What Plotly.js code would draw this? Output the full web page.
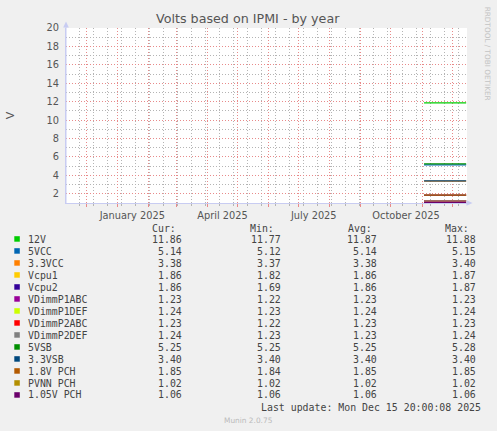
<!DOCTYPE html>
<html>
<head>
<meta charset="utf-8">
<script src="https://cdn.plot.ly/plotly-3.0.1.min.js"></script>
<style>html,body{margin:0;padding:0;background:#F0F0F0;}#chart{width:497px;height:431px;}</style>
</head>
<body>
<div id="chart"></div>
<script>
// ---- data ----
const dates = ['2025-11-03','2025-11-10','2025-11-17','2025-11-24','2025-12-01','2025-12-08','2025-12-15'];
const seriesNames = ['12V','5VCC','3.3VCC','Vcpu1','Vcpu2','VDimmP1ABC','VDimmP1DEF','VDimmP2ABC','VDimmP2DEF','5VSB','3.3VSB','1.8V PCH','PVNN PCH','1.05V PCH'];
const seriesColors = ['#00CC00','#0066B3','#FF8000','#FFCC00','#330099','#990099','#CCFF00','#FF0000','#808080','#008F00','#00487D','#B35A00','#B38F00','#6B006B'];
const v12V       = [11.86,11.87,11.87,11.88,11.87,11.87,11.86];
const v5VCC      = [5.14,5.14,5.14,5.15,5.14,5.14,5.14];
const v33VCC     = [3.38,3.38,3.38,3.39,3.38,3.38,3.38];
const vVcpu1     = [1.86,1.86,1.86,1.86,1.86,1.86,1.86];
const vVcpu2     = [1.86,1.86,1.86,1.86,1.86,1.86,1.86];
const vP1ABC     = [1.23,1.23,1.23,1.23,1.23,1.23,1.23];
const vP1DEF     = [1.24,1.24,1.24,1.24,1.24,1.24,1.24];
const vP2ABC     = [1.23,1.23,1.23,1.23,1.23,1.23,1.23];
const vP2DEF     = [1.23,1.23,1.24,1.23,1.23,1.23,1.24];
const v5VSB      = [5.25,5.25,5.25,5.26,5.25,5.25,5.25];
const v33VSB     = [3.40,3.40,3.40,3.40,3.40,3.40,3.40];
const v18PCH     = [1.85,1.85,1.85,1.85,1.85,1.85,1.85];
const vPVNN      = [1.02,1.02,1.02,1.02,1.02,1.02,1.02];
const v105PCH    = [1.06,1.06,1.06,1.06,1.06,1.06,1.06];
const seriesValues = [v12V,v5VCC,v33VCC,vVcpu1,vVcpu2,vP1ABC,vP1DEF,vP2ABC,vP2DEF,v5VSB,v33VSB,v18PCH,vPVNN,v105PCH];
const curCol = ['11.86','5.14','3.38','1.86','1.86','1.23','1.24','1.23','1.24','5.25','3.40','1.85','1.02','1.06'];
const minCol = ['11.77','5.12','3.37','1.82','1.69','1.22','1.23','1.22','1.23','5.25','3.40','1.84','1.02','1.06'];
const avgCol = ['11.87','5.14','3.38','1.86','1.86','1.23','1.24','1.23','1.23','5.25','3.40','1.85','1.02','1.06'];
const maxCol = ['11.88','5.15','3.40','1.87','1.87','1.23','1.24','1.23','1.24','5.28','3.40','1.85','1.02','1.06'];
const monthTicks = ['2024-12-01','2025-01-01','2025-02-01','2025-03-01','2025-04-01','2025-05-01','2025-06-01','2025-07-01','2025-08-01','2025-09-01','2025-10-01','2025-11-01','2025-12-01'];
const monthLabels = ['','January 2025','','','April 2025','','','July 2025','','','October 2025','',''];
const titleText = 'Volts based on IPMI - by year';
const lastUpdate = 'Last update: Mon Dec 15 20:00:08 2025';

// ---- layout helpers (pixel -> paper) ----
const L = 66, R = 467, T = 28.3, B = 203.3;
const W = 497, H = 431;
const px = x => (x - L) / (R - L);
const py = y => (B - y) / (B - T);

const traces = seriesNames.map((n, i) => ({
  type: 'scatter', mode: 'lines', name: n, x: dates, y: seriesValues[i],
  line: {color: seriesColors[i], width: 1.2}, showlegend: false, hoverinfo: 'skip'
}));

const mono = {family: 'DejaVu Sans Mono', size: 9.9, color: '#444'};
const ann = [];
const shapes = [];
function txt(x, y, t, xa, font, extra) {
  ann.push(Object.assign({xref: 'paper', yref: 'paper', x: px(x), y: py(y), text: t, showarrow: false,
    xanchor: xa, yanchor: 'middle', font: font, borderpad: 0}, extra || {}));
}
txt(177, 228.3, 'Cur:', 'right', mono);
txt(275, 228.3, 'Min:', 'right', mono);
txt(372.7, 228.3, 'Avg:', 'right', mono);
txt(470, 228.3, 'Max:', 'right', mono);
seriesNames.forEach((n, i) => {
  const y = 239.3 + 12 * i;
  shapes.push({type: 'rect', xref: 'paper', yref: 'paper', x0: px(14.3), x1: px(19.8), y0: py(y - 2.8), y1: py(y + 2.7),
    fillcolor: seriesColors[i], line: {width: 0}});
  txt(26.5, y, n, 'left', mono);
  txt(183, y, curCol[i], 'right', mono);
  txt(281.7, y, minCol[i], 'right', mono);
  txt(378.3, y, avgCol[i], 'right', mono);
  txt(476.7, y, maxCol[i], 'right', mono);
});
txt(481.7, 407.7, lastUpdate, 'right', mono);
txt(248, 420.5, 'Munin 2.0.75', 'center', {family: 'DejaVu Sans', size: 7.4, color: '#BBBBBB'});
txt(487.5, 53.5, 'RRDTOOL / TOBI OETIKER', 'center', {family: 'DejaVu Sans', size: 7.3, color: '#C4C4C4'}, {textangle: 90});
txt(10.5, 115, 'V', 'center', {family: 'DejaVu Sans', size: 11, color: '#555'}, {textangle: -90});
txt(248, 19, titleText, 'center', {family: 'DejaVu Sans', size: 12.7, color: '#555'});

// axis arrows
const ac = '#C8CCF2';
shapes.push({type: 'path', xref: 'paper', yref: 'paper',
  path: `M ${px(66)} ${py(21.8)} L ${px(63.2)} ${py(27.8)} L ${px(68.8)} ${py(27.8)} Z`, fillcolor: ac, line: {width: 0}});
shapes.push({type: 'path', xref: 'paper', yref: 'paper',
  path: `M ${px(472.5)} ${py(203.3)} L ${px(466.5)} ${py(200.5)} L ${px(466.5)} ${py(206.1)} Z`, fillcolor: ac, line: {width: 0}});
shapes.push({type: 'line', xref: 'paper', yref: 'paper', x0: px(66), x1: px(66), y0: py(203.3), y1: py(25), line: {color: ac, width: 1}});

const gridDash = '1px,2px';
const redGrid = '#E88A8A', grayGrid = '#B4B4B4';
const layout = {
  width: W, height: H, autosize: false,
  margin: {l: L, r: W - R, t: T, b: H - B, pad: 0},
  paper_bgcolor: '#F0F0F0', plot_bgcolor: '#FFFFFF',
  showlegend: false,
  xaxis: {
    type: 'date', range: ['2024-11-10 20:00', '2025-12-15 20:00'],
    tickmode: 'array', tickvals: monthTicks, ticktext: monthLabels,
    ticklabelshift: 15,
    showgrid: true, gridcolor: redGrid, griddash: gridDash, gridwidth: 1,
    ticks: 'outside', ticklen: 3, tickcolor: redGrid, tickwidth: 1,
    minor: {dtick: 14 * 86400000, tick0: '2024-11-24', showgrid: true, gridcolor: grayGrid, griddash: gridDash, gridwidth: 1,
      ticks: 'outside', ticklen: 2, tickcolor: grayGrid},
    showline: true, linecolor: ac, linewidth: 1, zeroline: false,
    tickfont: {family: 'DejaVu Sans', size: 9.8, color: '#555'},
    fixedrange: true
  },
  yaxis: {
    range: [1, 20], tickmode: 'linear', tick0: 0, dtick: 2,
    showgrid: true, gridcolor: redGrid, griddash: gridDash, gridwidth: 1,
    minor: {dtick: 1, tick0: 0, showgrid: true, gridcolor: grayGrid, griddash: gridDash, gridwidth: 1},
    ticks: 'outside', ticklen: 4, tickcolor: 'rgba(0,0,0,0)',
    showline: true, linecolor: ac, linewidth: 1, zeroline: false,
    tickfont: {family: 'DejaVu Sans', size: 9.8, color: '#555'},
    fixedrange: true
  },
  annotations: ann,
  shapes: shapes
};

Plotly.newPlot('chart', traces, layout, {displayModeBar: false, staticPlot: true});
</script>
</body>
</html>
